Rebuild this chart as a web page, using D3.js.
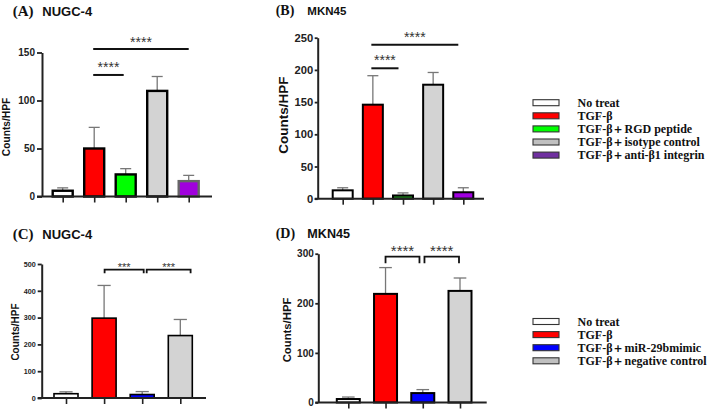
<!DOCTYPE html>
<html><head><meta charset="utf-8">
<script src="https://cdn.jsdelivr.net/npm/d3@7"></script>
<style>
html,body{margin:0;padding:0;background:#fff;}
svg{display:block;}
</style></head>
<body>
<svg id="chart" width="709" height="409"></svg>
<script>
// ---------------- DATA ----------------
const groupsAB = ["No treat", "TGF-β", "TGF-β＋RGD peptide", "TGF-β＋isotype control", "TGF-β＋anti-β1 integrin"];
const groupsCD = ["No treat", "TGF-β", "TGF-β＋miR-29bmimic", "TGF-β＋negative control"];

const meanA = [6, 50, 23, 110, 16];
const sdA   = [3, 22, 6, 15, 6];
const ticksA = [0, 50, 100, 150];
const sigA = [{from: 1, to: 4, level: 153.6, label: "****"}, {from: 1, to: 2, level: 126.6, label: "****"}];

const meanB = [13, 146, 5, 177, 10];
const sdB   = [4, 45, 4, 19, 7];
const ticksB = [0, 50, 100, 150, 200, 250];
const sigB = [{from: 1, to: 4, level: 239, label: "****"}, {from: 1, to: 2, level: 202.5, label: "****"}];

const meanC = [16, 298, 13, 233];
const sdC   = [7, 122, 11, 60];
const ticksC = [0, 100, 200, 300, 400, 500];
const sigC = [{from: 1, to: 2, level: 478.7, label: "***"}, {from: 2, to: 3, level: 478.7, label: "***"}];

const meanD = [7, 219, 19, 225];
const sdD   = [4, 53, 7, 26];
const ticksD = [0, 100, 200, 300];
const sigD = [{from: 1, to: 2, level: 294, label: "****"}, {from: 2, to: 3, level: 294, label: "****"}];

const titles = [["(A)", "NUGC-4"], ["(B)", "MKN45"], ["(C)", "NUGC-4"], ["(D)", "MKN45"]];
const yTitle = "Counts/HPF";

// ---------------- STYLE / LAYOUT ----------------
const svg = d3.select("#chart");
const SANS = "'Liberation Sans', Arial, Helvetica, sans-serif";
const SERIF = "'Liberation Serif', 'Times New Roman', serif";

const panels = [
  {groups: groupsAB, mean: meanA, sd: sdA, ticks: ticksA, sig: sigA, dom: [0, 150],
   axX: 42, yR: [196.5, 52.5], cx: [62.7, 188.7], barW: 20, xEnd: 212, barSW: 2.4,
   fills: ["#ffffff", "#ff0000", "#00ff00", "#d3d3d3", "#a000dd"],
   strokes: ["#000", "#000", "#000", "#000", "#666"],
   tickFont: 10, yTick: 5, yPad: 2, lblFont: 10.2, lblX: 9.6, lblY: 127,
   title: titles[0], tX: 12.7, tY: 15.5, tF1: 15, tF2: 13, t2X: 42.3,
   sigFont: 14, sigDy: [1.6, 3], bracket: 0, nud: [[-1, 0], [-1, -2]], sigColor: "#333"},
  {groups: groupsAB, mean: meanB, sd: sdB, ticks: ticksB, sig: sigB, dom: [0, 250],
   axX: 317.7, yR: [198.7, 37.7], cx: [342.7, 463.3], barW: 20, xEnd: 484, barSW: 2,
   fills: ["#ffffff", "#ff0000", "#22a022", "#d3d3d3", "#a000e0"],
   strokes: ["#000", "#000", "#000", "#000", "#000"],
   tickFont: 11.2, yTick: 3, yPad: 1.5, lblFont: 13.5, lblX: 288, lblY: 115,
   title: titles[1], tX: 275.7, tY: 15, tF1: 14, tF2: 11.5, t2X: 307.3,
   sigFont: 14, sigDy: [2.8, 2.9], bracket: 0, nud: [[-1.5, -5], [-1.5, -4.5]], sigColor: "#333"},
  {groups: groupsCD, mean: meanC, sd: sdC, ticks: ticksC, sig: sigC, dom: [0, 500],
   axX: 41.7, yR: [398, 264], cx: [66, 180.3], barW: 24, xEnd: 206, barSW: 1.6,
   fills: ["#ffffff", "#ff0000", "#0000ff", "#d3d3d3"],
   strokes: ["#000", "#000", "#000", "#000"],
   tickFont: 7.2, yTick: 4, yPad: 2, lblFont: 10, lblX: 18.5, lblY: 332,
   title: titles[2], tX: 12.7, tY: 238.5, tF1: 15, tF2: 13, t2X: 42.3,
   sigFont: 11, sigDy: [-1.5, -1.5], bracket: 3.6, nud: [[0.5, 1.5], [4.5, 10.3]], sigColor: "#333"},
  {groups: groupsCD, mean: meanD, sd: sdD, ticks: ticksD, sig: sigD, dom: [0, 300],
   axX: 318.3, yR: [402.5, 253.7], cx: [348.3, 460], barW: 23, xEnd: 486.7, barSW: 2,
   fills: ["#ffffff", "#ff0000", "#0000ff", "#d3d3d3"],
   strokes: ["#000", "#000", "#000", "#000"],
   tickFont: 10, yTick: 3, yPad: 1.5, lblFont: 11.3, lblX: 290.5, lblY: 330,
   title: titles[3], tX: 275.7, tY: 237.5, tF1: 14, tF2: 12.6, t2X: 307.3,
   sigFont: 15, sigDy: [0.5, 0.5], bracket: 6.5, nud: [[0, -3.3], [1.7, -1]], sigColor: "#333"}
];

panels.forEach(p => {
  const g = svg.append("g");
  const y = d3.scaleLinear().domain(p.dom).range(p.yR);
  const x = d3.scalePoint().domain(p.groups).range(p.cx);
  const rows = p.groups.map((k, i) => ({k, i, m: p.mean[i], s: p.sd[i]}));

  // error bars (upper only)
  const capW = p.barW * 0.55;
  rows.forEach(r => {
    const cx = x(r.k);
    g.append("line").attr("x1", cx).attr("x2", cx).attr("y1", y(r.m)).attr("y2", y(r.m + r.s))
      .attr("stroke", "#777").attr("stroke-width", 1.3);
    g.append("line").attr("x1", cx - capW / 2).attr("x2", cx + capW / 2)
      .attr("y1", y(r.m + r.s)).attr("y2", y(r.m + r.s))
      .attr("stroke", "#777").attr("stroke-width", 1.3);
  });

  // bars
  g.selectAll("rect.bar").data(rows).enter().append("rect")
    .attr("x", d => x(d.k) - p.barW / 2)
    .attr("y", d => y(d.m))
    .attr("width", p.barW)
    .attr("height", d => y(0) - y(d.m))
    .attr("fill", d => p.fills[d.i])
    .attr("stroke", d => p.strokes[d.i])
    .attr("stroke-width", p.barSW);

  // y axis
  const ya = g.append("g").attr("transform", `translate(${p.axX},0)`)
    .call(d3.axisLeft(y).tickValues(p.ticks).tickFormat(d3.format("d"))
      .tickSize(p.yTick).tickSizeOuter(0).tickPadding(p.yPad));
  ya.select(".domain").attr("stroke", "#222").attr("stroke-width", 2);
  ya.selectAll(".tick line").attr("stroke", "#222").attr("stroke-width", 1.8);
  ya.selectAll(".tick text").attr("font-family", SANS).attr("font-weight", "bold")
    .attr("font-size", p.tickFont).attr("fill", "#222");

  // x axis
  const xa = g.append("g").attr("transform", `translate(0,${y(0)})`)
    .call(d3.axisBottom(x).tickFormat("").tickSize(6).tickSizeOuter(0));
  xa.select(".domain").remove();
  xa.selectAll(".tick line").attr("stroke", "#222").attr("stroke-width", 1.6);
  g.append("line").attr("x1", p.axX - p.yTick).attr("x2", p.xEnd)
    .attr("y1", y(0)).attr("y2", y(0)).attr("stroke", "#222").attr("stroke-width", 2);

  // y title
  g.append("text").attr("transform", `translate(${p.lblX},${p.lblY}) rotate(-90)`)
    .attr("text-anchor", "middle").attr("font-family", SANS).attr("font-weight", "bold")
    .attr("font-size", p.lblFont).attr("fill", "#111").text(yTitle);

  // panel title
  g.append("text").attr("x", p.tX).attr("y", p.tY).attr("font-family", SERIF)
    .attr("font-weight", "bold").attr("font-size", p.tF1).attr("fill", "#111").text(p.title[0]);
  g.append("text").attr("x", p.t2X).attr("y", p.tY).attr("font-family", SANS)
    .attr("font-weight", "bold").attr("font-size", p.tF2).attr("fill", "#111").text(p.title[1]);

  // significance
  p.sig.forEach((s, j) => {
    const x1 = x(p.groups[s.from]) + p.nud[j][0];
    const x2 = x(p.groups[s.to]) + p.nud[j][1];
    const ly = y(s.level);
    if (p.bracket > 0) {
      g.append("path").attr("d", `M${x1},${ly + p.bracket}V${ly}H${x2}V${ly + p.bracket}`)
        .attr("fill", "none").attr("stroke", "#111").attr("stroke-width", 1.8);
    } else {
      g.append("line").attr("x1", x1).attr("x2", x2).attr("y1", ly).attr("y2", ly)
        .attr("stroke", "#111").attr("stroke-width", 2);
    }
    g.append("text").attr("x", (x1 + x2) / 2).attr("y", ly - p.sigDy[j])
      .attr("text-anchor", "middle").attr("font-family", SANS)
      .attr("font-size", p.sigFont).attr("fill", p.sigColor).text(s.label);
  });
});

// ---------------- LEGENDS ----------------
const legends = [
  {groups: groupsAB, fills: ["#ffffff", "#ff0000", "#00ff00", "#c0c0c0", "#7030a0"], y0: 102.7},
  {groups: groupsCD, fills: ["#ffffff", "#ff0000", "#0000ff", "#c0c0c0"], y0: 321.5}
];
legends.forEach(L => {
  const ly = d3.scalePoint().domain(L.groups).range([L.y0, L.y0 + 13.1 * (L.groups.length - 1)]);
  const lg = svg.append("g");
  L.groups.forEach((k, i) => {
    lg.append("rect").attr("x", 533).attr("y", ly(k) - 3).attr("width", 26).attr("height", 6)
      .attr("fill", L.fills[i]).attr("stroke", "#333").attr("stroke-width", 1.1);
    lg.append("text").attr("x", 577.5).attr("y", ly(k) + 4.3).attr("font-family", SERIF)
      .attr("font-weight", "bold").attr("font-size", 12).attr("fill", "#111").text(k);
  });
});
</script>
</body></html>
